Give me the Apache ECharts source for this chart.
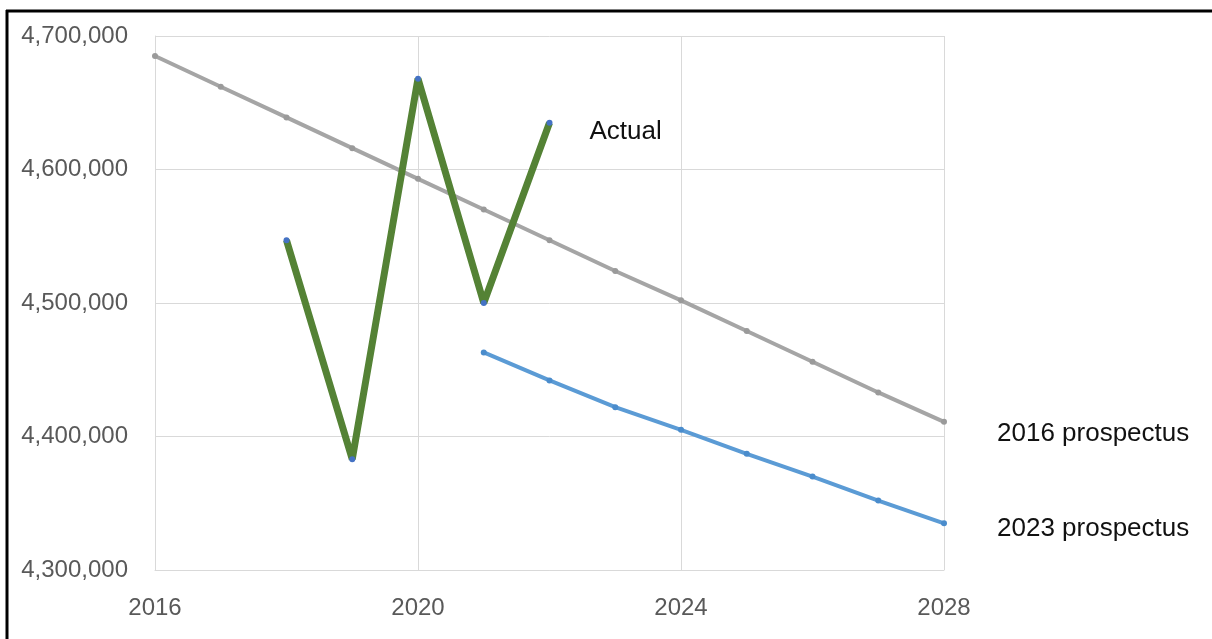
<!DOCTYPE html>
<html>
<head>
<meta charset="utf-8">
<script src="https://cdn.jsdelivr.net/npm/echarts@6/dist/echarts.min.js"></script>
<style>
  html, body { margin: 0; padding: 0; background: #fff; }
  #chart { width: 1212px; height: 639px; }
</style>
</head>
<body>
<div id="chart"></div>
<script>
// data
var years = [2016, 2017, 2018, 2019, 2020, 2021, 2022, 2023, 2024, 2025, 2026, 2027, 2028];
var prospectus2016 = [4685000, 4662000, 4639000, 4616000, 4593000, 4570000, 4547000, 4524000, 4502000, 4479000, 4456000, 4433000, 4411000];
var actualYears = [2018, 2019, 2020, 2021, 2022];
var actual = [4547000, 4383000, 4668000, 4500000, 4635000];
var prospectus2023Years = [2021, 2022, 2023, 2024, 2025, 2026, 2027, 2028];
var prospectus2023 = [4463000, 4442000, 4422000, 4405000, 4387000, 4370000, 4352000, 4335000];
var yTicks = [4300000, 4400000, 4500000, 4600000, 4700000];

function pairs(xs, ys) {
  return xs.map(function (x, i) { return [x, ys[i]]; });
}

var font = 'Liberation Sans';
var gridColor = '#d9d9d9';

var myChart = echarts.init(document.getElementById('chart'));
var option = {
  backgroundColor: '#fff',
  animation: false,
  grid: {
    left: 155,
    right: 268,
    top: 36,
    bottom: 69
  },
  xAxis: {
    type: 'value',
    min: 2016,
    max: 2028,
    interval: 4,
    axisLine: { show: true, lineStyle: { color: gridColor } },
    axisTick: { show: false },
    splitLine: { show: true, lineStyle: { color: gridColor, width: 1 } },
    axisLabel: {
      margin: 26,
      fontFamily: font,
      fontSize: 24,
      color: '#595959',
      formatter: function (v) { return String(v); }
    }
  },
  yAxis: {
    type: 'value',
    min: yTicks[0],
    max: yTicks[yTicks.length - 1],
    interval: 100000,
    axisLine: { show: true, lineStyle: { color: gridColor } },
    axisTick: { show: false },
    splitLine: { show: true, lineStyle: { color: gridColor, width: 1 } },
    axisLabel: {
      margin: 27,
      fontFamily: font,
      fontSize: 24,
      color: '#595959',
      formatter: function (v) {
        return String(v).replace(/\B(?=(\d{3})+(?!\d))/g, ',');
      }
    }
  },
  series: [
    {
      name: '2016 prospectus',
      type: 'line',
      data: pairs(years, prospectus2016),
      symbol: 'circle',
      symbolSize: 6,
      itemStyle: { color: '#9a9a9a' },
      lineStyle: { color: '#a5a5a5', width: 4 },
      endLabel: {
        show: true,
        formatter: '{a}',
        distance: 53,
        offset: [0, 12],
        fontFamily: font,
        fontSize: 26,
        color: '#111'
      }
    },
    {
      name: '2023 prospectus',
      type: 'line',
      data: pairs(prospectus2023Years, prospectus2023),
      symbol: 'circle',
      symbolSize: 6,
      itemStyle: { color: '#4a8ccc' },
      lineStyle: { color: '#5b9bd5', width: 4 },
      endLabel: {
        show: true,
        formatter: '{a}',
        distance: 53,
        offset: [0, 6],
        fontFamily: font,
        fontSize: 26,
        color: '#111'
      }
    },
    {
      name: 'Actual',
      type: 'line',
      data: pairs(actualYears, actual),
      symbol: 'circle',
      symbolSize: 6,
      itemStyle: { color: '#4472c4' },
      lineStyle: { color: '#548235', width: 7 },
      z: 3,
      endLabel: {
        show: true,
        formatter: '{a}',
        distance: 40,
        offset: [0, 9],
        fontFamily: font,
        fontSize: 26,
        color: '#111'
      }
    }
  ],
  graphic: [
    // the 2028 label is cut off in the original
    { type: 'rect', z: 100, shape: { x: 970, y: 588, width: 22, height: 40 }, style: { fill: '#fff' } },
    // frame edges
    { type: 'line', z: 100, shape: { x1: 6, y1: 11, x2: 1212, y2: 11 }, style: { stroke: '#000', lineWidth: 3 } },
    { type: 'line', z: 100, shape: { x1: 7, y1: 10, x2: 7, y2: 639 }, style: { stroke: '#000', lineWidth: 3 } }
  ]
};
myChart.setOption(option);
</script>
</body>
</html>
